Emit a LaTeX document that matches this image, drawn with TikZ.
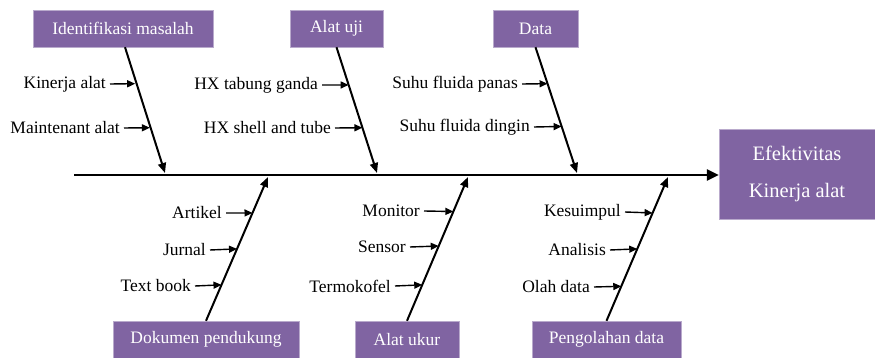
\documentclass[tikz,border=0pt]{standalone}
\usepackage{fontspec}
\setmainfont{Liberation Serif}
\usetikzlibrary{arrows.meta,calc}
\definecolor{boxpurple}{RGB}{128,100,162}
\begin{document}
\begin{tikzpicture}[x=1pt,y=-1pt,
		kotak/.style={fill=boxpurple,draw=boxpurple!55!white,text=white,
			font=\fontsize{17.5}{21}\selectfont,inner sep=0pt,minimum height=37pt},
		tulang/.style={line width=2pt,-{Triangle[length=10pt,width=8pt]}},
		cabang/.style={line width=1.4pt,-{Triangle[length=8pt,width=7pt]}},
		ket/.style={anchor=east,font=\fontsize{17.5}{21}\selectfont,inner sep=4pt}
	]
	\useasboundingbox (0,0) rectangle (875,358);
	% kepala ikan
	\node[kotak,minimum width=156pt,minimum height=90pt,align=center,
		font=\fontsize{20.5}{37}\selectfont] (efek) at (797,174) {Efektivitas\\Kinerja alat};
	\coordinate (ekor) at (74,175);
	\draw[line width=2.8pt,-{Triangle[length=12pt,width=11pt]}] (ekor) -- (ekor -| efek.west);

	% kotak atas
	\node[kotak,minimum width=180pt] (identifikasi) at (123,28.5) {Identifikasi masalah};
	\node[kotak,minimum width=93pt] (alatuji) at (336.5,28.5) {Alat uji};
	\node[kotak,minimum width=85pt] (data) at (535.5,28.5) {Data};
	% kotak bawah
	\node[kotak,minimum width=186pt] (dokumen) at (206,339.5) {Dokumen pendukung};
	\node[kotak,minimum width=104pt] (alatukur) at (407,339.5) {Alat ukur};
	\node[kotak,minimum width=149pt] (pengolahan) at (606.5,339.5) {Pengolahan data};

	% tulang utama
	\coordinate (u1) at (165,173);
	\coordinate (u2) at (377,173);
	\coordinate (u3) at (577,173);
	\coordinate (b1) at (268,177);
	\coordinate (b2) at (468,177);
	\coordinate (b3) at (668,177);
	\draw[tulang] ([xshift=2pt]identifikasi.south) -- (u1);
	\draw[tulang] (alatuji.south) -- (u2);
	\draw[tulang] (data.south) -- (u3);
	\draw[tulang] (dokumen.north) -- (b1);
	\draw[tulang] (alatukur.north) -- (b2);
	\draw[tulang] (pengolahan.north) -- (b3);

	% cabang atas
	\node[ket] (kinerja) at (110,84) {Kinerja alat};
	\node[ket] (maintenant) at (124,128) {Maintenant alat};
	\node[ket] (hxganda) at (322,85) {HX tabung ganda};
	\node[ket] (hxshell) at (335,128) {HX shell and tube};
	\node[ket] (panas) at (522,84) {Suhu fluida panas};
	\node[ket] (dingin) at (534,127) {Suhu fluida dingin};
	\draw[cabang] (kinerja.east) -- ($(identifikasi.south)!0.29!(u1)$ |- kinerja.east);
	\draw[cabang] (maintenant.east) -- ($(identifikasi.south)!0.64!(u1)$ |- maintenant.east);
	\draw[cabang] (hxganda.east) -- ($(alatuji.south)!0.30!(u2)$ |- hxganda.east);
	\draw[cabang] (hxshell.east) -- ($(alatuji.south)!0.64!(u2)$ |- hxshell.east);
	\draw[cabang] (panas.east) -- ($(data.south)!0.29!(u3)$ |- panas.east);
	\draw[cabang] (dingin.east) -- ($(data.south)!0.63!(u3)$ |- dingin.east);

	% cabang bawah
	\node[ket] (artikel) at (226,213) {Artikel};
	\node[ket] (jurnal) at (210,250) {Jurnal};
	\node[ket] (textbook) at (195,286) {Text book};
	\node[ket] (monitor) at (424,211) {Monitor};
	\node[ket] (sensor) at (410,247) {Sensor};
	\node[ket] (termokofel) at (395,286) {Termokofel};
	\node[ket] (kesuimpul) at (625,212) {Kesuimpul};
	\node[ket] (analisis) at (610,250) {Analisis};
	\node[ket] (olahdata) at (594,287) {Olah data};
	\draw[cabang] (artikel.east) -- ($(b1)!0.25!(dokumen.north)$ |- artikel.east);
	\draw[cabang] (jurnal.east) -- ($(b1)!0.50!(dokumen.north)$ |- jurnal.east);
	\draw[cabang] (textbook.east) -- ($(b1)!0.75!(dokumen.north)$ |- textbook.east);
	\draw[cabang] (monitor.east) -- ($(b2)!0.24!(alatukur.north)$ |- monitor.east);
	\draw[cabang] (sensor.east) -- ($(b2)!0.48!(alatukur.north)$ |- sensor.east);
	\draw[cabang] (termokofel.east) -- ($(b2)!0.75!(alatukur.north)$ |- termokofel.east);
	\draw[cabang] (kesuimpul.east) -- ($(b3)!0.25!(pengolahan.north)$ |- kesuimpul.east);
	\draw[cabang] (analisis.east) -- ($(b3)!0.50!(pengolahan.north)$ |- analisis.east);
	\draw[cabang] (olahdata.east) -- ($(b3)!0.76!(pengolahan.north)$ |- olahdata.east);
\end{tikzpicture}
\end{document}
